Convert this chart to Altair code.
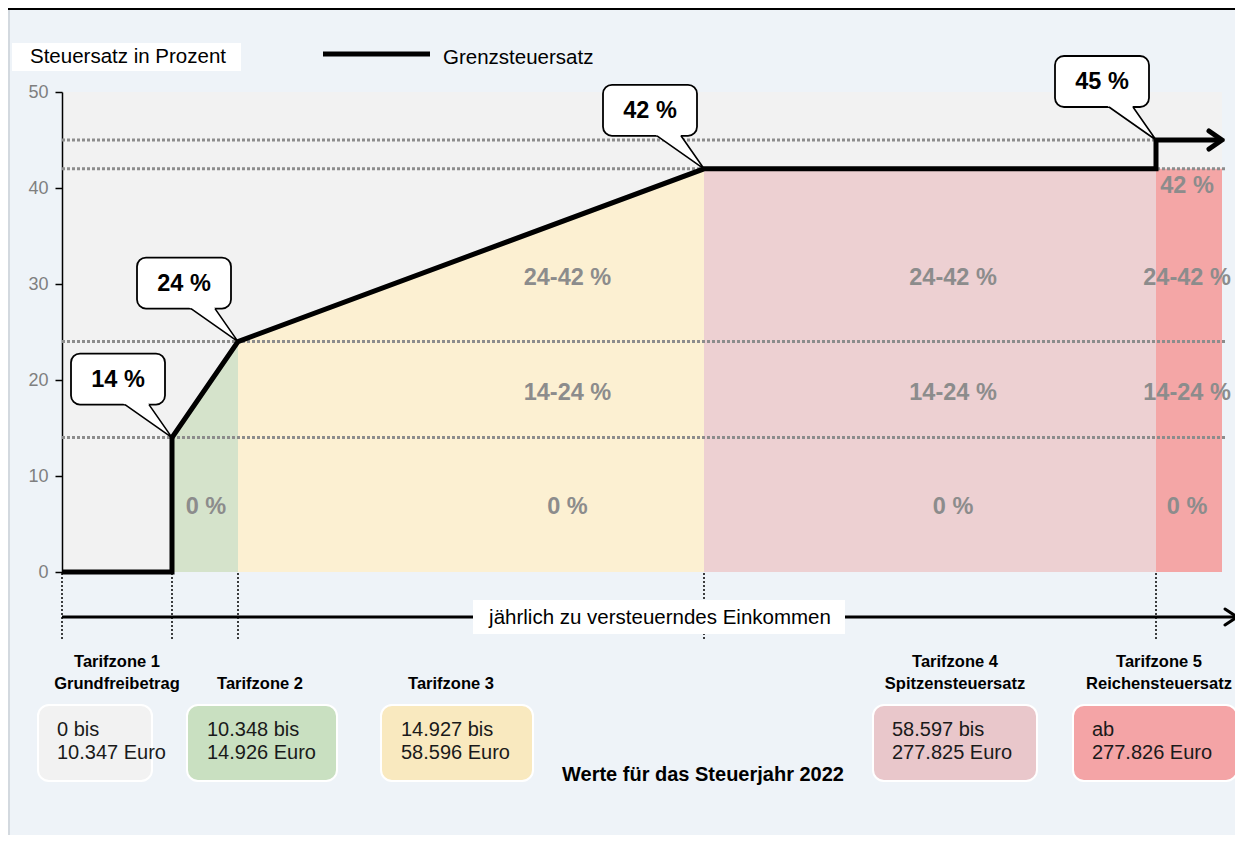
import altair as alt
import pandas as pd

# ---------------- data ----------------
zone_bounds = [0, 10347, 14926, 58596, 277825, 300000]          # Euro (open end)
line_income = [0, 10347, 10347, 14926, 58596, 277825, 277825, 300000]
line_rate = [0, 0, 14, 24, 42, 42, 45, 45]
ref_rates = [14, 24, 42, 45]

area_zone = ["z2", "z2", "z3", "z3", "z4", "z4", "z5", "z5"]
area_income = [10347, 14926, 14926, 58596, 58596, 277825, 277825, 300000]
area_rate = [14, 24, 24, 42, 42, 42, 42, 42]

callout_income = [10347, 14926, 58596, 277825]
callout_rate = [14, 24, 42, 45]
callout_text = ["14 %", "24 %", "42 %", "45 %"]

label_income = [12700, 45800, 45800, 45800, 179400, 179400, 179400,
                288250, 288250, 288250, 288250]
label_rate = [6.8, 6.8, 18.6, 30.6, 6.8, 18.6, 30.6, 6.8, 18.6, 30.6, 40.2]
label_text = ["0 %", "0 %", "14-24 %", "24-42 %", "0 %", "14-24 %", "24-42 %",
              "0 %", "14-24 %", "24-42 %", "42 %"]

title_top = ["Tarifzone 1", "", "", "Tarifzone 4", "Tarifzone 5"]
title_bottom = ["Grundfreibetrag", "Tarifzone 2", "Tarifzone 3",
                "Spitzensteuersatz", "Reichensteuersatz"]
box_line1 = ["0 bis", "10.348 bis", "14.927 bis", "58.597 bis", "ab"]
box_line2 = ["10.347 Euro", "14.926 Euro", "58.596 Euro", "277.825 Euro", "277.826 Euro"]

# ---------------- style / layout ----------------
FONT = "Liberation Sans"
BG = "#EEF3F8"
zone_colors = ["#D5E3CB", "#FCF0D2", "#EDD0D2", "#F4A6A6"]
box_colors = ["#F2F2F2", "#C9E0C1", "#F9E9BF", "#E9C7CB", "#F4A4A6"]

W, H = 1160, 480
xscale = alt.Scale(domain=zone_bounds, range=[0, 110, 176, 642, 1094, 1160], nice=False)
yscale = alt.Scale(domain=[0, 50], nice=False)
yaxis = alt.Axis(values=[0, 10, 20, 30, 40, 50], grid=False, title=None,
                 domainColor="black", domainWidth=1.5, tickColor="black",
                 tickWidth=1.5, tickSize=7, labelColor="#7F7F7F", labelFontSize=18,
                 labelFont=FONT, labelPadding=7)


def X(f):
    return alt.X(f, scale=xscale, axis=None)


def Y(f):
    return alt.Y(f, scale=yscale, axis=yaxis, stack=None)


one = pd.DataFrame({"d": [0]})

# frame decorations
top_line = alt.Chart(one).mark_rule(color="black", strokeWidth=2).encode(
    x=alt.value(-54), x2=alt.value(1175), y=alt.value(-83))
left_line = alt.Chart(one).mark_rule(color="#D3D9DF", strokeWidth=2).encode(
    x=alt.value(-53), y=alt.value(-82), y2=alt.value(760))

# zone fills
area_df = pd.DataFrame({"zone": area_zone, "income": area_income, "rate": area_rate})
areas = alt.Chart(area_df).mark_area(opacity=1).encode(
    x=X("income:Q"), y=Y("rate:Q"),
    color=alt.Color("zone:N", scale=alt.Scale(domain=["z2", "z3", "z4", "z5"],
                                              range=zone_colors), legend=None))

# dotted reference lines
ref_df = pd.DataFrame({"rate": ref_rates})
refs = alt.Chart(ref_df).mark_rule(color="#8C8C8C", strokeWidth=3, strokeDash=[3, 2]).encode(
    y=Y("rate:Q"), x=alt.value(0), x2=alt.value(1163))

# zone percentage labels
lab_df = pd.DataFrame({"income": label_income, "rate": label_rate, "t": label_text})
labels = alt.Chart(lab_df).mark_text(font=FONT, fontSize=23.5, fontWeight="bold",
                                     color="#8C8C8C", baseline="middle").encode(
    x=X("income:Q"), y=Y("rate:Q"), text="t:N")

# marginal tax rate line
line_df = pd.DataFrame({"income": line_income, "rate": line_rate,
                        "idx": list(range(len(line_income)))})
line = alt.Chart(line_df).mark_line(color="black", strokeWidth=5, strokeJoin="miter").encode(
    x=X("income:Q"), y=Y("rate:Q"), order="idx:Q")

end_df = line_df.tail(1)
arrow_end = alt.Chart(end_df).mark_point(
    shape="M-13,-9 L0,0 L-13,9", size=4, filled=False, stroke="black", strokeWidth=5,
    strokeCap="round", strokeJoin="round", opacity=1).encode(x=X("income:Q"), y=Y("rate:Q"))

# callouts
co_df = pd.DataFrame({"income": callout_income, "rate": callout_rate, "t": callout_text})
co_box = alt.Chart(co_df).mark_rect(
    fill="white", stroke="black", strokeWidth=1.8, cornerRadius=9,
    xOffset=-101, x2Offset=-7, yOffset=-84, y2Offset=-33).encode(
    x=X("income:Q"), x2="income:Q", y=Y("rate:Q"), y2="rate:Q")
co_fill = alt.Chart(co_df).mark_point(
    shape="M0,0 L-49.8,-35 L-24.4,-35 Z", size=4, filled=True, fill="white",
    strokeWidth=0, opacity=1).encode(x=X("income:Q"), y=Y("rate:Q"))
co_edge = alt.Chart(co_df).mark_point(
    shape="M-47,-33 L0,0 L-23,-33", size=4, filled=False, stroke="black",
    strokeWidth=1.6, opacity=1).encode(x=X("income:Q"), y=Y("rate:Q"))
co_text = alt.Chart(co_df).mark_text(
    font=FONT, fontSize=23.5, fontWeight="bold", color="black", dx=-54, dy=-58,
    baseline="middle").encode(x=X("income:Q"), y=Y("rate:Q"), text="t:N")

# zone boundary dotted lines below the chart
bnd_df = pd.DataFrame({"income": zone_bounds[:-1]})
bounds = alt.Chart(bnd_df).mark_rule(color="black", strokeWidth=1.5, strokeDash=[2, 2]).encode(
    x=X("income:Q"), y=alt.value(481), y2=alt.value(548))

# income axis arrow
inc_line = alt.Chart(one).mark_rule(color="black", strokeWidth=3).encode(
    x=alt.value(0), x2=alt.value(1173), y=alt.value(525))
inc_head = alt.Chart(one).mark_point(
    shape="M-12,-8 L0,0 L-12,8", size=4, filled=False, stroke="black", strokeWidth=3,
    strokeCap="round", opacity=1).encode(x=alt.value(1175), y=alt.value(525))
inc_box = alt.Chart(one).mark_rect(fill="white").encode(
    x=alt.value(411), x2=alt.value(783), y=alt.value(508), y2=alt.value(542))
inc_text = alt.Chart(pd.DataFrame({"t": ["jährlich zu versteuerndes Einkommen"]})).mark_text(
    font=FONT, fontSize=20.5, color="black", baseline="middle").encode(
    x=alt.value(598), y=alt.value(526), text="t:N")

# bottom zone descriptions
bot_df = pd.DataFrame({
    "top": title_top, "bottom": title_bottom, "l1": box_line1, "l2": box_line2,
    "c": box_colors,
    "tx": [55, 198, 389, 893, 1097],
    "rx1": [-24, 125, 319, 811, 1011], "rx2": [90, 275, 471, 975, 1175],
    "lx": [-5, 145, 339, 830, 1030],
})
t_top = alt.Chart(bot_df).mark_text(font=FONT, fontSize=16.5, fontWeight="bold",
                                    color="black", baseline="middle").encode(
    x=alt.X("tx:Q", scale=None), y=alt.value(570), text="top:N")
t_bot = alt.Chart(bot_df).mark_text(font=FONT, fontSize=16.5, fontWeight="bold",
                                    color="black", baseline="middle").encode(
    x=alt.X("tx:Q", scale=None), y=alt.value(592), text="bottom:N")
boxes = alt.Chart(bot_df).mark_rect(cornerRadius=11, stroke="white", strokeWidth=2).encode(
    x=alt.X("rx1:Q", scale=None), x2="rx2:Q", y=alt.value(613), y2=alt.value(689),
    fill=alt.Fill("c:N", scale=None))
b_l1 = alt.Chart(bot_df).mark_text(font=FONT, fontSize=20, color="#1A1A1A", align="left",
                                   baseline="middle").encode(
    x=alt.X("lx:Q", scale=None), y=alt.value(638), text="l1:N")
b_l2 = alt.Chart(bot_df).mark_text(font=FONT, fontSize=20, color="#1A1A1A", align="left",
                                   baseline="middle").encode(
    x=alt.X("lx:Q", scale=None), y=alt.value(661), text="l2:N")
footer = alt.Chart(pd.DataFrame({"t": ["Werte für das Steuerjahr 2022"]})).mark_text(
    font=FONT, fontSize=20, fontWeight="bold", color="black", baseline="middle").encode(
    x=alt.value(641), y=alt.value(683), text="t:N")

# top: y title and legend
ytitle_box = alt.Chart(one).mark_rect(fill="white").encode(
    x=alt.value(-50), x2=alt.value(179), y=alt.value(-49), y2=alt.value(-21))
ytitle = alt.Chart(pd.DataFrame({"t": ["Steuersatz in Prozent"]})).mark_text(
    font=FONT, fontSize=20.5, color="black", align="left", baseline="middle").encode(
    x=alt.value(-32), y=alt.value(-35), text="t:N")
leg_line = alt.Chart(one).mark_rule(color="black", strokeWidth=5).encode(
    x=alt.value(261), x2=alt.value(368), y=alt.value(-38))
leg_text = alt.Chart(pd.DataFrame({"t": ["Grenzsteuersatz"]})).mark_text(
    font=FONT, fontSize=20.5, color="black", align="left", baseline="middle").encode(
    x=alt.value(381), y=alt.value(-34), text="t:N")

chart = alt.layer(
    top_line, left_line, areas, refs, labels, line, arrow_end,
    co_box, co_fill, co_edge, co_text, bounds,
    inc_line, inc_head, inc_box, inc_text,
    boxes, t_top, t_bot, b_l1, b_l2, footer,
    ytitle_box, ytitle, leg_line, leg_text,
).properties(
    width=W, height=H,
    autosize=alt.AutoSizeParams(type="none"),
    padding={"left": 54, "top": 84, "right": 13, "bottom": 263},
).configure(background=BG).configure_view(fill="#F2F2F2", strokeWidth=0)

chart.save("out.html", embed_options={"renderer": "svg", "actions": False})
